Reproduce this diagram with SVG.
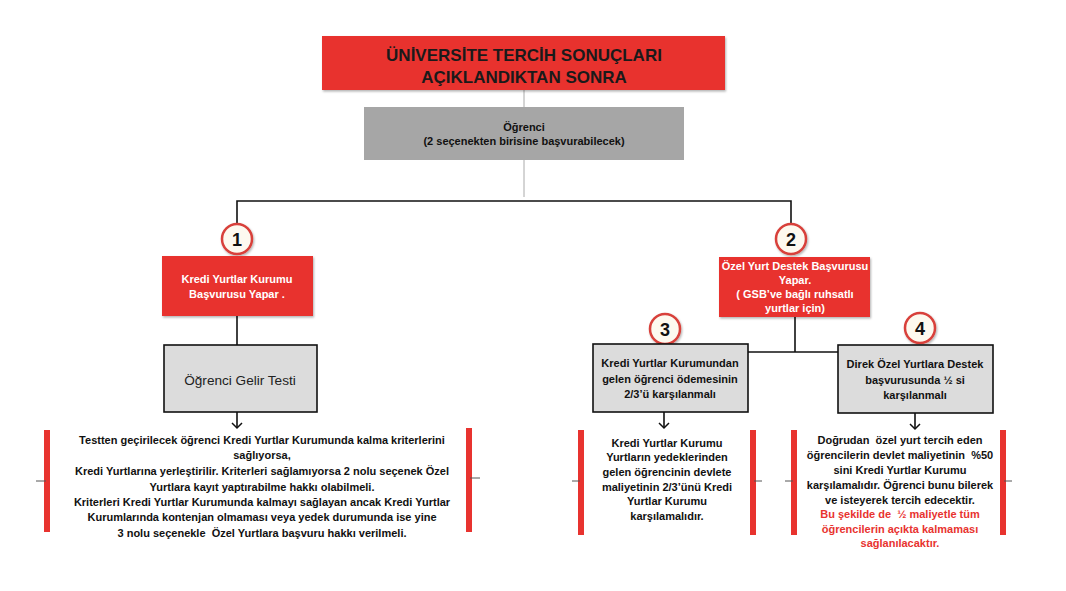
<svg xmlns="http://www.w3.org/2000/svg" width="1066" height="591" viewBox="0 0 1066 591">
<style>
.b{font-family:"Liberation Sans",Arial,sans-serif;font-weight:bold;text-anchor:middle;white-space:pre}
.t{font-size:11px;fill:#111}
.w{font-size:11px;fill:#fff}
.r{fill:#e8332f}
.g{fill:#dcdcdc;stroke:#111;stroke-width:1.6}
.ln{stroke:#111;stroke-width:1.6;fill:none}
.br{fill:#e8332f}
.tk{stroke:#555;stroke-width:1}
.cir{fill:#fdf9ef;stroke:#d8413a;stroke-width:2.5}
.num{font-size:18px;fill:#111}
.red{fill:#e8332f;font-size:11px}
</style>
<defs>
<marker id="ah" markerWidth="12" markerHeight="12" refX="9" refY="6" orient="auto" markerUnits="userSpaceOnUse">
<path d="M4,1 L9,6 L4,11" fill="none" stroke="#111" stroke-width="1.5"/>
</marker>
<filter id="sh" x="-20%" y="-20%" width="140%" height="140%"><feDropShadow dx="1" dy="1.5" stdDeviation="1.2" flood-color="#000" flood-opacity="0.3"/></filter>
</defs>
<rect width="1066" height="591" fill="#fff"/>

<g id="connectors">
<line x1="524" y1="90" x2="524" y2="107" stroke="#aaa" stroke-width="1"/>
<line x1="524" y1="160" x2="524" y2="197" stroke="#aaa" stroke-width="1"/>
<polyline class="ln" points="237,223 237,201 791,201 791,223"/>
<line class="ln" x1="237" y1="316" x2="237" y2="345"/>
<line class="ln" x1="237" y1="412" x2="237" y2="428" marker-end="url(#ah)"/>
<line class="ln" x1="795" y1="317" x2="795" y2="352"/>
<line class="ln" x1="748" y1="352" x2="838" y2="352"/>
<line class="ln" x1="664" y1="412" x2="664" y2="428" marker-end="url(#ah)"/>
<line class="ln" x1="915" y1="413" x2="915" y2="429" marker-end="url(#ah)"/>
</g>

<g id="title">
<rect x="322" y="36" width="403" height="54" class="r" filter="url(#sh)"/>
<text class="b" x="524" y="61" font-size="17px" fill="#1a1a1a">ÜNİVERSİTE TERCİH SONUÇLARI</text>
<text class="b" x="524" y="83" font-size="17px" fill="#1a1a1a">AÇIKLANDIKTAN SONRA</text>
</g>

<g id="ogrenci">
<rect x="364" y="107" width="320" height="53" fill="#a6a6a6"/>
<text class="b t" x="524" y="131" font-size="12px">Öğrenci</text>
<text class="b t" x="524" y="145">(2 seçenekten birisine başvurabilecek)</text>
</g>

<g id="c1">
<circle cx="237" cy="239" r="15" class="cir" filter="url(#sh)"/>
<text class="b num" x="237" y="245.5">1</text>
</g>
<g id="c2">
<circle cx="791" cy="239" r="15" class="cir" filter="url(#sh)"/>
<text class="b num" x="791" y="245.5">2</text>
</g>
<g id="c3">
<circle cx="665" cy="329" r="15" class="cir" filter="url(#sh)"/>
<text class="b num" x="665" y="335.5">3</text>
</g>
<g id="c4">
<circle cx="920" cy="328" r="15" class="cir" filter="url(#sh)"/>
<text class="b num" x="920" y="334.5">4</text>
</g>

<g id="kyk">
<rect x="162" y="256" width="151" height="60" class="r" filter="url(#sh)"/>
<text class="b w" x="237" y="283">Kredi Yurtlar Kurumu</text>
<text class="b w" x="237" y="298">Başvurusu Yapar .</text>
</g>

<g id="ozel">
<rect x="719" y="257" width="151" height="60" class="r" filter="url(#sh)"/>
<text class="b w" x="795" y="270">Özel Yurt Destek Başvurusu</text>
<text class="b w" x="795" y="284">Yapar.</text>
<text class="b w" x="795" y="298">( GSB’ve bağlı ruhsatlı</text>
<text class="b w" x="795" y="312">yurtlar için)</text>
</g>

<g id="gelir">
<rect x="164" y="345" width="153" height="67" class="g"/>
<text x="240" y="385" font-family="Liberation Sans,Arial,sans-serif" font-size="13.6px" fill="#222" text-anchor="middle">Öğrenci Gelir Testi</text>
</g>

<g id="box3">
<rect x="593" y="344" width="155" height="68" class="g"/>
<text class="b t" x="670" y="367">Kredi Yurtlar Kurumundan</text>
<text class="b t" x="670" y="383">gelen öğrenci ödemesinin</text>
<text class="b t" x="670" y="398">2/3’ü karşılanmalı</text>
</g>

<g id="box4">
<rect x="838" y="345" width="155" height="68" class="g"/>
<text class="b t" x="915" y="368">Direk Özel Yurtlara Destek</text>
<text class="b t" x="915" y="384">başvurusunda ½ si</text>
<text class="b t" x="915" y="399">karşılanmalı</text>
</g>

<g id="note1">
<rect x="44" y="430" width="6" height="102" class="br"/>
<rect x="466" y="428" width="6" height="104" class="br"/>
<line class="tk" x1="36" y1="481" x2="46" y2="481"/>
<line class="tk" x1="470" y1="478" x2="480" y2="478"/>
<text class="b t" x="262" y="444">Testten geçirilecek öğrenci Kredi Yurtlar Kurumunda kalma kriterlerini</text>
<text class="b t" x="262" y="459">sağlıyorsa,</text>
<text class="b t" x="262" y="475">Kredi Yurtlarına yerleştirilir. Kriterleri sağlamıyorsa 2 nolu seçenek Özel</text>
<text class="b t" x="262" y="491">Yurtlara kayıt yaptırabilme hakkı olabilmeli.</text>
<text class="b t" x="262" y="506">Kriterleri Kredi Yurtlar Kurumunda kalmayı sağlayan ancak Kredi Yurtlar</text>
<text class="b t" x="262" y="521">Kurumlarında kontenjan olmaması veya yedek durumunda ise yine</text>
<text class="b t" x="262" y="537">3 nolu seçenekle  Özel Yurtlara başvuru hakkı verilmeli.</text>
</g>

<g id="note2">
<rect x="578" y="430" width="6" height="105" class="br"/>
<rect x="750" y="430" width="6" height="105" class="br"/>
<line class="tk" x1="572" y1="481" x2="580" y2="481"/>
<line class="tk" x1="754" y1="481" x2="762" y2="481"/>
<text class="b t" x="667" y="447">Kredi Yurtlar Kurumu</text>
<text class="b t" x="667" y="461">Yurtların yedeklerinden</text>
<text class="b t" x="667" y="476">gelen öğrencinin devlete</text>
<text class="b t" x="667" y="491">maliyetinin 2/3’ünü Kredi</text>
<text class="b t" x="667" y="505">Yurtlar Kurumu</text>
<text class="b t" x="667" y="520">karşılamalıdır.</text>
</g>

<g id="note3">
<rect x="791" y="430" width="6" height="105" class="br"/>
<rect x="1000" y="430" width="6" height="105" class="br"/>
<line class="tk" x1="785" y1="481" x2="793" y2="481"/>
<line class="tk" x1="1004" y1="481" x2="1012" y2="481"/>
<text class="b t" x="900" y="444">Doğrudan  özel yurt tercih eden</text>
<text class="b t" x="900" y="459">öğrencilerin devlet maliyetinin  %50</text>
<text class="b t" x="900" y="474">sini Kredi Yurtlar Kurumu</text>
<text class="b t" x="900" y="489">karşılamalıdır. Öğrenci bunu bilerek</text>
<text class="b t" x="900" y="504">ve isteyerek tercih edecektir.</text>
<text class="b red" x="900" y="518">Bu şekilde de  ½ maliyetle tüm</text>
<text class="b red" x="900" y="533">öğrencilerin açıkta kalmaması</text>
<text class="b red" x="900" y="547">sağlanılacaktır.</text>
</g>
</svg>
